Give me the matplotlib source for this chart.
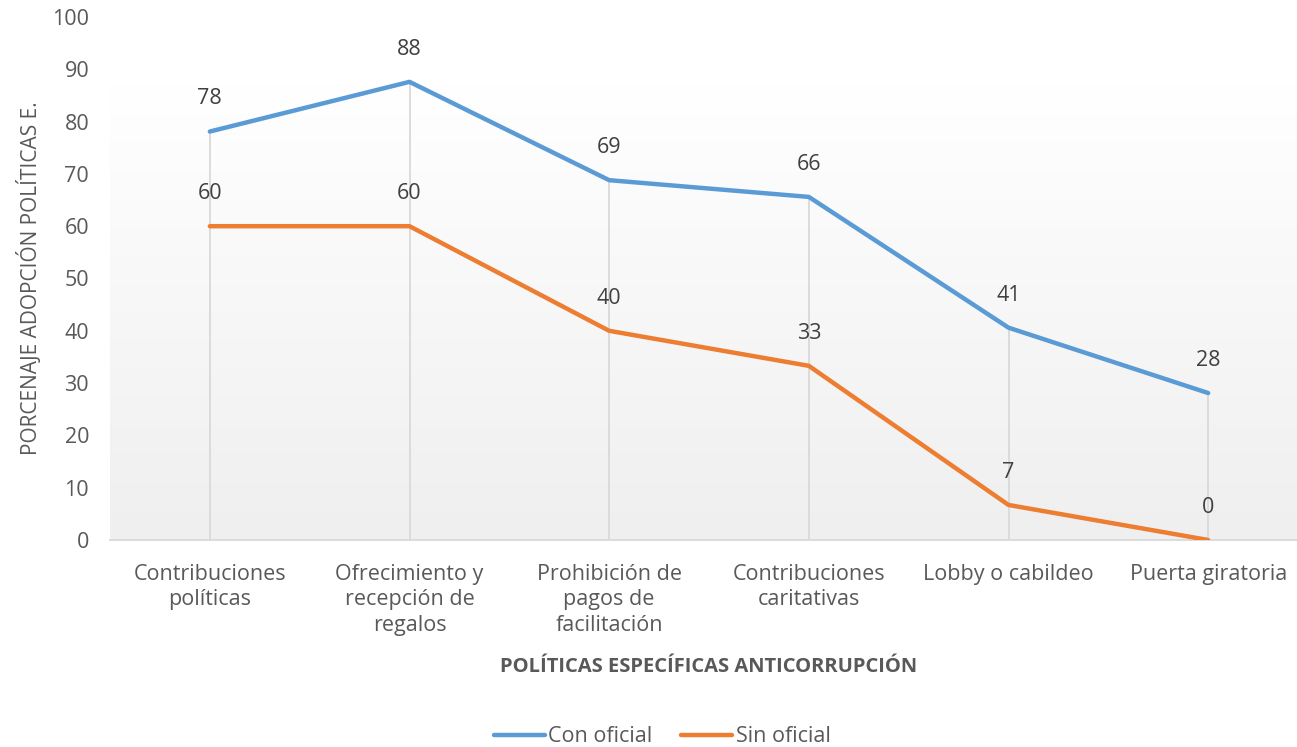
import matplotlib.pyplot as plt
import numpy as np
from matplotlib.colors import LinearSegmentedColormap

plt.rcParams['font.family'] = ['Open Sans', 'DejaVu Sans']

categorias = [
    "Contribuciones\npolíticas",
    "Ofrecimiento y\nrecepción de\nregalos",
    "Prohibición de\npagos de\nfacilitación",
    "Contribuciones\ncaritativas",
    "Lobby o cabildeo",
    "Puerta giratoria",
]
con_oficial = [78.1, 87.6, 68.8, 65.6, 40.6, 28.1]
sin_oficial = [60.0, 60.0, 40.0, 33.3, 6.7, 0.0]
yticks = [0, 10, 20, 30, 40, 50, 60, 70, 80, 90, 100]

AZUL = "#5b9bd5"
NARANJA = "#ed7d31"
TXT = "#595959"

W, H = 1297, 747
fig = plt.figure(figsize=(W / 100, H / 100), dpi=100)
# ejes: x=110..1308 px, y=17..540 px
ax = fig.add_axes([110 / W, (H - 540) / H, (1308 - 110) / W, (540 - 17) / H])

x = np.arange(len(categorias))
ax.set_xlim(-0.5, len(categorias) - 0.5)
ax.set_ylim(0, 100)

# fondo degradado del área de trazado (blanco -> gris claro)
top_plot = (540 - 85) / 5.23
grad = np.linspace(0, 1, 256).reshape(-1, 1)
cmap = LinearSegmentedColormap.from_list("g", ["#efefef", "#ffffff"])
ax.imshow(grad, extent=(-0.5, len(categorias) - 0.5, 0, top_plot), origin="lower",
          cmap=cmap, aspect="auto", zorder=0)

# líneas verticales máximo-mínimo
for xi, a, b in zip(x, con_oficial, sin_oficial):
    ax.plot([xi, xi], [0, max(a, b)], color="#d9d9d9", lw=1.3, zorder=1)

ax.plot(x, con_oficial, color=AZUL, lw=3.2, solid_capstyle="round", label="Con oficial", zorder=3)
ax.plot(x, sin_oficial, color=NARANJA, lw=3.2, solid_capstyle="round", label="Sin oficial", zorder=3)

for serie in (con_oficial, sin_oficial):
    for xi, v in zip(x, serie):
        ax.annotate(f"{v:.0f}", (xi, v), xytext=(0, 23.5), textcoords="offset points",
                    ha="center", va="center", fontsize=15.5, color="#404040")

ax.set_yticks(yticks)
ax.set_xticks(x)
ax.set_xticklabels(categorias, fontsize=15.5, color=TXT, linespacing=1.3, va="top")
ax.tick_params(axis="y", labelsize=15.5, labelcolor=TXT, length=0, pad=15)
ax.tick_params(axis="x", length=0, pad=17)
for s in ["top", "right", "left"]:
    ax.spines[s].set_visible(False)
ax.spines["bottom"].set_color("#d9d9d9")
ax.spines["bottom"].set_linewidth(1.3)

fig.text(30 / W, 1 - 278 / H, "PORCENAJE ADOPCIÓN POLÍTICAS E.", rotation=90,
         ha="center", va="center", fontsize=15, color=TXT)
fig.text(709 / W, 1 - 667 / H, "POLÍTICAS ESPECÍFICAS ANTICORRUPCIÓN", ha="center", va="center",
         fontsize=14.5, fontweight="bold", color=TXT)

fig.legend(loc="center", bbox_to_anchor=(662 / W, 1 - 737 / H), ncol=2, frameon=False,
           fontsize=15.5, labelcolor=TXT, handlelength=2.4, handletextpad=0.15, columnspacing=1.3)

fig.savefig("out.png", dpi=100)
